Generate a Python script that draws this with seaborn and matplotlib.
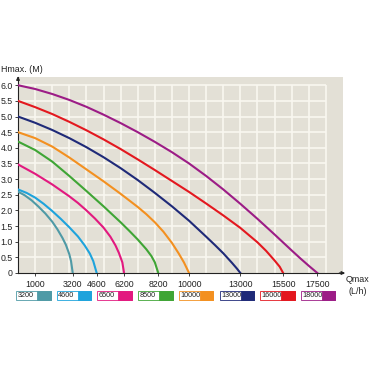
import numpy as np
import pandas as pd
import matplotlib
matplotlib.use("Agg")
import matplotlib.pyplot as plt
from matplotlib.patches import Rectangle
import seaborn as sns

plt.rcParams['font.family'] = ['Liberation Sans', 'DejaVu Sans']

# ---- data ----
models = ["3200", "4600", "6500", "8500", "10000", "13000", "16000", "18000"]
colors = ["#4f9aa6", "#1ea3dc", "#e2197f", "#3fa535", "#f39020", "#1f2a78", "#e3181f", "#9c1c86"]

q_3200 = [0, 400, 800, 1200, 1600, 2000, 2300, 2600, 2800, 3000, 3100, 3200]
h_3200 = [2.60, 2.48, 2.32, 2.12, 1.90, 1.64, 1.40, 1.12, 0.90, 0.60, 0.38, 0.0]

q_4600 = [0, 500, 1000, 1500, 2000, 2500, 3000, 3500, 3900, 4200, 4400, 4600]
h_4600 = [2.67, 2.56, 2.41, 2.21, 1.98, 1.73, 1.46, 1.17, 0.88, 0.62, 0.38, 0.0]

q_6500 = [0, 1000, 2000, 3000, 3500, 4000, 4500, 5000, 5400, 5700, 5900, 6100, 6200]
h_6500 = [3.47, 3.17, 2.83, 2.45, 2.24, 2.00, 1.74, 1.45, 1.16, 0.88, 0.64, 0.34, 0.0]

q_8500 = [0, 1000, 2000, 3000, 4000, 5000, 6000, 6500, 7000, 7500, 7800, 8000, 8200]
h_8500 = [4.20, 3.93, 3.56, 3.10, 2.62, 2.13, 1.62, 1.35, 1.07, 0.76, 0.54, 0.34, 0.0]

q_10000 = [0, 1000, 2000, 3000, 4000, 5000, 6000, 7000, 7500, 8000, 8500, 9000, 9400, 9700, 10000]
h_10000 = [4.50, 4.31, 4.04, 3.69, 3.31, 2.93, 2.53, 2.11, 1.88, 1.62, 1.32, 0.96, 0.62, 0.34, 0.0]

q_13000 = [0, 1000, 2000, 3000, 4000, 5000, 6000, 7000, 8000, 9000, 10000, 11000, 11500, 12000, 12500, 12800, 13000]
h_13000 = [5.00, 4.80, 4.57, 4.31, 4.02, 3.70, 3.35, 2.97, 2.56, 2.13, 1.67, 1.16, 0.90, 0.63, 0.33, 0.14, 0.0]

q_16000 = [0, 1000, 2000, 3000, 4000, 5000, 6000, 7000, 8000, 9000, 10000, 11000, 12000, 13000, 14000, 14500, 15000, 15300, 15500]
h_16000 = [5.50, 5.30, 5.08, 4.83, 4.56, 4.27, 3.96, 3.63, 3.29, 2.94, 2.59, 2.22, 1.84, 1.44, 0.98, 0.71, 0.40, 0.20, 0.0]

q_18000 = [0, 1000, 2000, 3000, 4000, 5000, 6000, 7000, 8000, 9000, 10000, 11000, 12000, 13000, 14000, 15000, 16000, 16500, 17000, 17500]
h_18000 = [6.00, 5.88, 5.72, 5.53, 5.31, 5.06, 4.79, 4.50, 4.19, 3.86, 3.50, 3.10, 2.67, 2.21, 1.73, 1.23, 0.72, 0.47, 0.23, 0.0]

x_ticks = [1000, 3200, 4600, 6200, 8200, 10000, 13000, 15500, 17500]
y_ticks = [0, 0.5, 1.0, 1.5, 2.0, 2.5, 3.0, 3.5, 4.0, 4.5, 5.0, 5.5, 6.0]
y_labels = ["0", "0.5", "1.0", "1.5", "2.0", "2.5", "3.0", "3.5", "4.0", "4.5", "5.0", "5.5", "6.0"]

series_q = [q_3200, q_4600, q_6500, q_8500, q_10000, q_13000, q_16000, q_18000]
series_h = [h_3200, h_4600, h_6500, h_8500, h_10000, h_13000, h_16000, h_18000]

rows = []
for m, qs, hs in zip(models, series_q, series_h):
    for q, h in zip(qs, hs):
        rows.append({"model": m, "Q": q, "H": h})
df = pd.DataFrame(rows)

# ---- figure ----
W = H = 370
fig = plt.figure(figsize=(3.7, 3.7), dpi=100)
fig.patch.set_facecolor("white")

def fx(px):
    return px / W

def fy(py):
    return 1 - py / H

ax = fig.add_axes([fx(18), fy(273), 325 / W, 195.6 / H])
ax.set_facecolor("#e3e0d6")
ax.set_xlim(0, 19000)
ax.set_ylim(0, 6.25)

grid_c = "#f9f7f0"
ax.vlines(np.arange(1000, 18001, 1000), 0, 6.0, color=grid_c, lw=1.2, zorder=0)
ax.hlines(np.arange(0.5, 6.01, 0.5), 0, 18000, color=grid_c, lw=1.2, zorder=0)

sns.lineplot(data=df, x="Q", y="H", hue="model", hue_order=models,
             palette=dict(zip(models, colors)), sort=False, estimator=None,
             legend=False, lw=1.5, ax=ax, zorder=3)
for ln in ax.get_lines():
    ln.set_solid_joinstyle("round")

for s in ["top", "right"]:
    ax.spines[s].set_visible(False)
for s in ["left", "bottom"]:
    ax.spines[s].set_color("#222222")
    ax.spines[s].set_linewidth(0.8)

ax.set_xticks(x_ticks)
ax.set_xticklabels([str(v) for v in x_ticks])
ax.set_yticks(y_ticks)
ax.set_yticklabels(y_labels)
ax.tick_params(axis="x", length=2, width=0.6, pad=3, labelsize=6.3, colors="#222222")
ax.tick_params(axis="y", length=2, width=0.6, pad=2, labelsize=6.3, colors="#222222")
ax.set_xlabel("")
ax.set_ylabel("")

# axis arrows
ax.annotate("", xy=(1.015, 0), xytext=(0.98, 0), xycoords="axes fraction",
            arrowprops=dict(arrowstyle="-|>", color="#222222", lw=0.8, mutation_scale=5))
ax.annotate("", xy=(0, 1.02), xytext=(0, 0.97), xycoords="axes fraction",
            arrowprops=dict(arrowstyle="-|>", color="#222222", lw=0.8, mutation_scale=5))

fig.text(fx(1), fy(70), "Hmax. (M)", fontsize=6.4, color="#222222", ha="left", va="center")
fig.text(fx(358), fy(279), "Qmax", fontsize=6.4, color="#222222", ha="center", va="center")
fig.text(fx(358), fy(291), "(L/h)", fontsize=6.4, color="#222222", ha="center", va="center")

# legend boxes
for i, (m, c) in enumerate(zip(models, colors)):
    x0 = 16 + i * 40.7
    y_top, y_bot = 291, 299.5
    hgt = (y_bot - y_top) / H
    fig.patches.append(Rectangle((fx(x0), fy(y_bot)), 34.5 / W, hgt, transform=fig.transFigure,
                                 facecolor="white", edgecolor=c, lw=0.6, figure=fig))
    fig.patches.append(Rectangle((fx(x0 + 21), fy(y_bot)), 13.5 / W, hgt, transform=fig.transFigure,
                                 facecolor=c, edgecolor=c, lw=0.6, figure=fig))
    fig.text(fx(x0 + 1.5), fy((y_top + y_bot) / 2), m, fontsize=5.2, color="#222222",
             ha="left", va="center")

fig.savefig("out.png", dpi=100)
